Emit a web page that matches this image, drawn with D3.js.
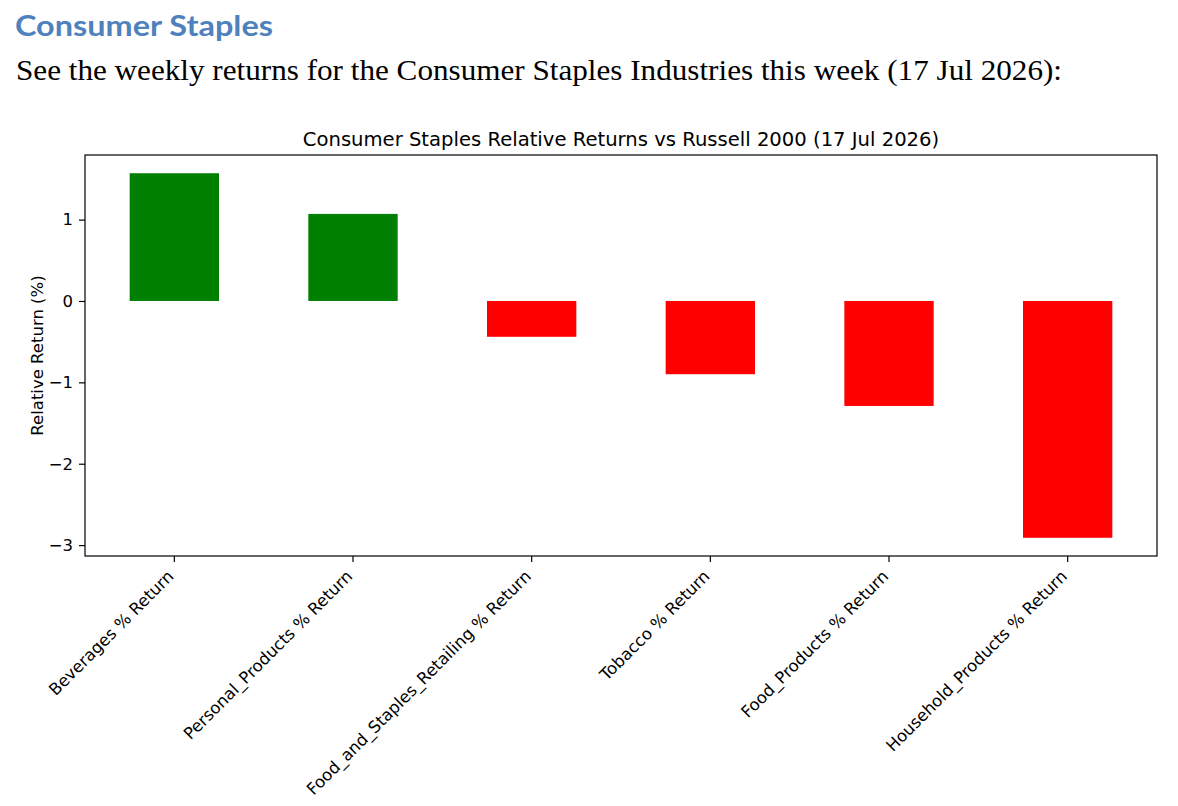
<!DOCTYPE html>
<html>
<head>
<meta charset="utf-8">
<script src="https://cdn.jsdelivr.net/npm/d3@7"></script>
<style>
  body { margin: 0; background: #fff; }
  svg { display: block; }
</style>
</head>
<body>
<div id="chart"></div>
<script>
// data
var categories = [
  "Beverages % Return",
  "Personal_Products % Return",
  "Food_and_Staples_Retailing % Return",
  "Tobacco % Return",
  "Food_Products % Return",
  "Household_Products % Return"
];
var returns = [1.57, 1.07, -0.44, -0.90, -1.29, -2.91];
var yTicks = [-3, -2, -1, 0, 1];

var heading = "Consumer Staples";
var intro = "See the weekly returns for the Consumer Staples Industries this week (17 Jul 2026):";
var chartTitle = "Consumer Staples Relative Returns vs Russell 2000 (17 Jul 2026)";
var yLabel = "Relative Return (%)";

var svgWidth = 1178;
var svgHeight = 806;

var margin = { top: 155, right: 21, bottom: 250, left: 85 };
var width = svgWidth - margin.left - margin.right;
var height = svgHeight - margin.top - margin.bottom;

var labelSize = 16.5;
var titleSize = 19.6;

var svg = d3.select("#chart")
  .append("svg")
  .attr("width", svgWidth)
  .attr("height", svgHeight);

// document text above the figure
svg.append("text")
  .attr("x", 15)
  .attr("y", 36)
  .attr("font-family", "Lato, 'Open Sans', sans-serif")
  .attr("font-weight", "bold")
  .attr("font-size", 29)
  .attr("fill", "#4f81bd")
  .attr("textLength", 258)
  .attr("lengthAdjust", "spacingAndGlyphs")
  .text(heading);

svg.append("text")
  .attr("x", 16)
  .attr("y", 80)
  .attr("font-family", "'Liberation Serif', 'DejaVu Serif', serif")
  .attr("font-size", 30)
  .attr("fill", "#000")
  .attr("textLength", 1046)
  .attr("lengthAdjust", "spacingAndGlyphs")
  .text(intro);

var chartGroup = svg.append("g")
  .attr("transform", "translate(" + margin.left + "," + margin.top + ")")
  .attr("font-family", "'DejaVu Sans', sans-serif");

var xScale = d3.scaleBand()
  .domain(categories)
  .range([0, width])
  .paddingInner(0.5)
  .paddingOuter(0.25);

// matplotlib-style autoscale: data range incl. zero, plus 5% margins
var lo = Math.min(0, d3.min(returns));
var hi = Math.max(0, d3.max(returns));
var pad = (hi - lo) * 0.05;

var yScale = d3.scaleLinear()
  .domain([lo - pad, hi + pad])
  .range([height, 0]);

chartGroup.selectAll(".bar")
  .data(returns)
  .enter()
  .append("rect")
  .attr("class", "bar")
  .attr("x", function(d, i) { return xScale(categories[i]); })
  .attr("width", xScale.bandwidth())
  .attr("y", function(d) { return yScale(Math.max(0, d)); })
  .attr("height", function(d) { return Math.abs(yScale(d) - yScale(0)); })
  .attr("fill", function(d) { return d >= 0 ? "#008000" : "#ff0000"; });

// y axis
var leftAxis = d3.axisLeft(yScale)
  .tickValues(yTicks)
  .tickSize(6)
  .tickPadding(6)
  .tickFormat(d3.format("d"));

var yAxisG = chartGroup.append("g").call(leftAxis);
yAxisG.select(".domain").remove();
yAxisG.selectAll("text")
  .attr("font-size", labelSize)
  .attr("font-family", "'DejaVu Sans', sans-serif")
  .attr("fill", "#000");
yAxisG.selectAll("line").attr("stroke", "#000").attr("stroke-width", 1.2);

// x axis
var bottomAxis = d3.axisBottom(xScale)
  .tickSize(6)
  .tickFormat("");

var xAxisG = chartGroup.append("g")
  .attr("transform", "translate(0," + height + ")")
  .call(bottomAxis);
xAxisG.select(".domain").remove();
xAxisG.selectAll("line").attr("stroke", "#000").attr("stroke-width", 1.2);

chartGroup.selectAll(".xlabel")
  .data(categories)
  .enter()
  .append("text")
  .attr("class", "xlabel")
  .attr("transform", function(d) {
    var cx = xScale(d) + xScale.bandwidth() / 2 - 8;
    return "translate(" + cx + "," + (height + 13) + ") rotate(-45)";
  })
  .attr("text-anchor", "end")
  .attr("dy", "0.72em")
  .attr("font-size", labelSize)
  .attr("fill", "#000")
  .text(function(d) { return d; });

// frame
chartGroup.append("rect")
  .attr("width", width)
  .attr("height", height)
  .attr("fill", "none")
  .attr("stroke", "#000")
  .attr("stroke-width", 1.2);

// titles
chartGroup.append("text")
  .attr("x", width / 2)
  .attr("y", -9)
  .attr("text-anchor", "middle")
  .attr("font-size", titleSize)
  .attr("fill", "#000")
  .text(chartTitle);

chartGroup.append("text")
  .attr("transform", "translate(" + (-42) + "," + (height / 2) + ") rotate(-90)")
  .attr("text-anchor", "middle")
  .attr("font-size", labelSize)
  .attr("fill", "#000")
  .text(yLabel);
</script>
</body>
</html>
